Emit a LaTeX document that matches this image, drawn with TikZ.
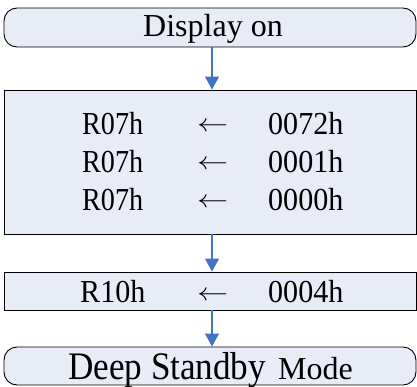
\documentclass[tikz,border=0pt]{standalone}
\usepackage{fontspec}
\setmainfont{Liberation Serif}
\usetikzlibrary{arrows.meta}
\definecolor{boxfill}{RGB}{231,236,247}
\definecolor{arrblue}{RGB}{68,114,196}
\tikzset{
  flowbox/.style={draw=black, line width=0.9pt, fill=boxfill, minimum width=412pt, inner sep=0pt},
  roundbox/.style={flowbox, rounded corners=13pt},
  txt/.style={inner sep=0pt, anchor=base west, font=\fontsize{32}{32}\selectfont},
  flowarr/.style={draw=arrblue, line width=1.2pt, -{Triangle[width=14pt,length=13pt]}}
}
\newcommand{\sx}[2]{\scalebox{#1}[1]{#2}}
\newcommand{\larr}{\raisebox{2.5pt}{\scalebox{1.25}[1]{$\leftarrow$}}}
\begin{document}
\begin{tikzpicture}[x=1pt,y=1pt]
\useasboundingbox (0,0) rectangle (417,386);
% boxes
\node[roundbox, minimum height=39pt] (top) at (210,358.5) {};
\node[flowbox, minimum height=144pt] (regs) at (210,224) {};
\node[flowbox, minimum height=38pt] (r10) at (210,95) {};
\node[roundbox, minimum height=38pt] (bottom) at (210,20) {};
% texts
\node[txt] (t1) at (143,349.3) {\sx{1.0}{Display on}};
\node[txt] (a1) at (82,251.5) {\sx{0.88}{R07h}};
\node[txt] (b1) at (197,251.5) {\larr};
\node[txt] (c1) at (268,251.5) {\sx{0.94}{0072h}};
\node[txt] (a2) at (82,213.5) {\sx{0.88}{R07h}};
\node[txt] (b2) at (197,213.5) {\larr};
\node[txt] (c2) at (268,213.5) {\sx{0.94}{0001h}};
\node[txt] (a3) at (82,176) {\sx{0.88}{R07h}};
\node[txt] (b3) at (197,176) {\larr};
\node[txt] (c3) at (268,176) {\sx{0.94}{0000h}};
\node[txt] (a4) at (80,83.5) {\sx{0.94}{R10h}};
\node[txt] (b4) at (197,83.5) {\larr};
\node[txt] (c4) at (268,83.5) {\sx{0.94}{0004h}};
\node[txt, font=\fontsize{39}{39}\selectfont] (d1) at (68,7) {\sx{0.9}{Deep Standby}};
\node[txt] (d2) at (278,7) {\sx{1.0}{Mode}};
% connectors
\draw[flowarr] ([xshift=2pt]top.south) -- ([xshift=2pt]regs.north);
\draw[flowarr] ([xshift=2pt]regs.south) -- ([xshift=2pt]r10.north);
\draw[flowarr] ([xshift=2pt]r10.south) -- ([xshift=2pt]bottom.north);
\end{tikzpicture}
\end{document}
